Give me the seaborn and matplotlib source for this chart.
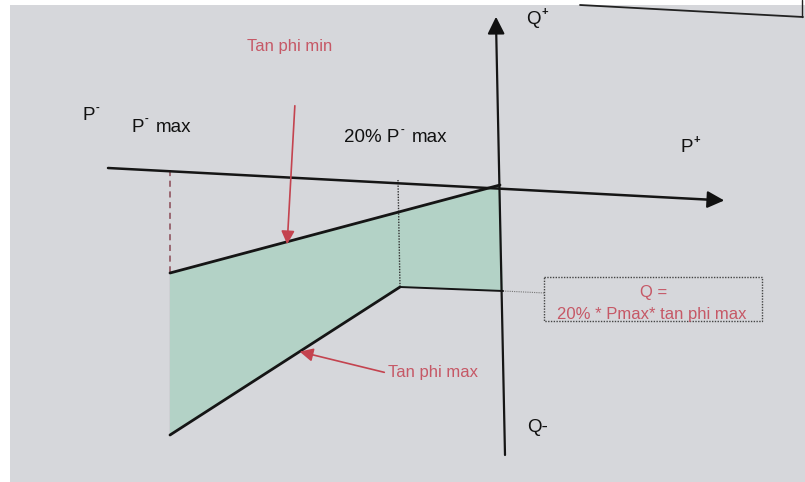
import matplotlib
matplotlib.use("Agg")
import matplotlib.pyplot as plt
import matplotlib.patches as mpatches
import seaborn as sns

sns.set_theme(style="white")
plt.rcParams["font.family"] = ["Liberation Sans", "DejaVu Sans"]

# Diagram geometry (P across, Q downwards, in drawing units)
p_axis_p = [108, 715]
p_axis_q = [168, 200]
q_axis_p = [505, 496]
q_axis_q = [455, 22]

# Capability region boundaries
tan_min_p = [170, 500]
tan_min_q = [273, 185]
tan_max_p = [170, 400, 503]
tan_max_q = [435, 287, 291]
pmax_edge_p = [170, 170]
pmax_edge_q = [273, 435]
origin_edge_p = [500, 503]
origin_edge_q = [185, 291]

# Reference verticals
pmax_ref_p = [170, 170]
pmax_ref_q = [170, 273]
p20_ref_p = [398, 400]
p20_ref_q = [180, 287]

RED = "#c4434f"
TEXT_RED = "#c65866"
FILL = "#b3d2c6"
BG = "#d6d7db"
INK = "#151515"

fig = plt.figure(figsize=(8.05, 4.82), dpi=100)
fig.patch.set_facecolor("white")
ax = fig.add_axes([0, 0, 1, 1])
ax.set_xlim(0, 805)
ax.set_ylim(482, 0)
ax.axis("off")

# paper background
ax.add_patch(mpatches.Rectangle((10, 5), 795, 477, facecolor=BG, edgecolor="none", zorder=0))
# page edge at top right
ax.plot([580, 803], [5, 17], color="#222222", lw=1.3, zorder=1)
ax.plot([802, 802], [0, 17], color="#222222", lw=1.0, zorder=1)

# shaded region
poly_p = tan_min_p + origin_edge_p[1:] + tan_max_p[::-1][1:]
poly_q = tan_min_q + origin_edge_q[1:] + tan_max_q[::-1][1:]
ax.fill(poly_p, poly_q, color=FILL, zorder=2, lw=0)

# axes of the diagram
sns.lineplot(x=p_axis_p, y=p_axis_q, color=INK, lw=1.8, sort=False, ax=ax, zorder=4)
ax.annotate("", xy=(p_axis_p[1] + 12, p_axis_q[1] + 0.6), xytext=(p_axis_p[1] - 5, p_axis_q[1] - 0.3),
            arrowprops=dict(arrowstyle="-|>", color="#111111", mutation_scale=26, lw=1.5), zorder=5)
sns.lineplot(x=q_axis_p, y=q_axis_q, color=INK, lw=1.6, sort=False, ax=ax, zorder=4)
ax.annotate("", xy=(q_axis_p[1], q_axis_q[1] - 8), xytext=(q_axis_p[1] + 0.1, q_axis_q[1] + 6),
            arrowprops=dict(arrowstyle="-|>", color="#111111", mutation_scale=26, lw=1.5), zorder=5)

# region boundaries
for xs, ys, lw in [(tan_min_p, tan_min_q, 2.0), (tan_max_p[:2], tan_max_q[:2], 2.0),
                   (tan_max_p[1:], tan_max_q[1:], 1.4), (pmax_edge_p, pmax_edge_q, 1.8)]:
    sns.lineplot(x=xs, y=ys, color=INK, lw=lw, sort=False, ax=ax, zorder=4)

# reference verticals
ax.plot(pmax_ref_p, pmax_ref_q, color="#8a4a55", lw=1.1, ls=(0, (4, 3)), zorder=3)
ax.plot(p20_ref_p, p20_ref_q, color="#333333", lw=1.0, ls=(0, (1, 1)), zorder=3)
ax.plot([503, 545], [291, 293], color="#777777", lw=0.8, ls=(0, (1, 1)), zorder=3)

# formula box
ax.add_patch(mpatches.Rectangle((544, 277), 218, 44, facecolor="none", edgecolor="#444444",
                                lw=1.0, ls=(0, (1, 1)), zorder=3))
ax.text(654, 293, "Q =", color=TEXT_RED, fontsize=12, ha="center", va="center", zorder=6)
ax.text(652, 314, "20% * Pmax* tan phi max", color=TEXT_RED, fontsize=12, ha="center", va="center", zorder=6)

# red pointer arrows
ax.annotate("", xy=(287, 247), xytext=(295, 103),
            arrowprops=dict(arrowstyle="-|>", color=RED, lw=1.2, mutation_scale=20), zorder=6)
ax.text(290, 47, "Tan phi min", color=TEXT_RED, fontsize=12, ha="center", va="center")
ax.annotate("", xy=(297, 351), xytext=(387, 373),
            arrowprops=dict(arrowstyle="-|>", color=RED, lw=1.2, mutation_scale=20), zorder=6)
ax.text(388, 372, "Tan phi max", color=TEXT_RED, fontsize=12, ha="left", va="center")


def label(x, y, base, sup, rest=""):
    """Axis label with a small raised sign after the first letter."""
    t = ax.text(x, y, base, color="#111111", fontsize=13.5, ha="left", va="center")
    fig.canvas.draw()
    bb = t.get_window_extent()
    inv = ax.transData.inverted()
    x1, _ = inv.transform((bb.x1, bb.y0))
    ax.text(x1 + 1, y - 8, sup, color="#111111", fontsize=8, ha="left", va="center", fontweight="bold")
    if rest:
        ax.text(x1 + 12, y, rest, color="#111111", fontsize=13.5, ha="left", va="center")


label(82, 116, "P", "-")
label(131, 127, "P", "-", "max")
label(344, 138, "20% P", "-", "max")
label(680, 148, "P", "+")
label(526, 20, "Q", "+")
ax.text(527, 428, "Q-", color="#111111", fontsize=13.5, ha="left", va="center")

fig.savefig("out.png", dpi=100, facecolor=fig.get_facecolor())
